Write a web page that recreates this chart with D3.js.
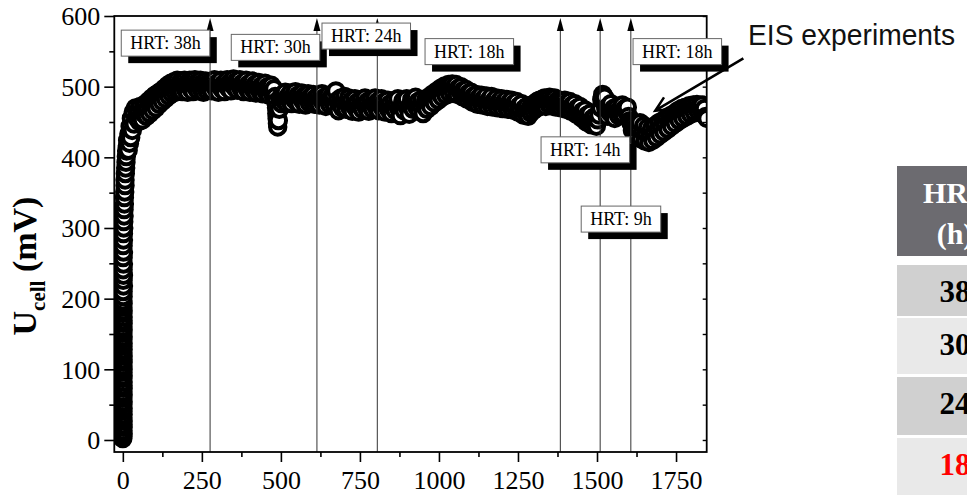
<!DOCTYPE html>
<html>
<head>
<meta charset="utf-8">
<script src="https://cdn.jsdelivr.net/npm/d3@7"></script>
<style>
  html, body { margin: 0; padding: 0; background: #fff; overflow: hidden; }
  svg { display: block; }
</style>
</head>
<body>
<svg id="chart" width="967" height="495"></svg>
<script>
// ---- Cell voltage record: [time (h), U_cell (mV)] grouped by HRT period ----
const startupRise = [
  [0,2],[0,5],[1,9],[0,13],[1,18],[0,22],[1,27],[0,31],[1,36],[0,41],[1,45],[0,50],[1,54],[0,59],
  [1,64],[0,68],[1,73],[0,77],[1,82],[0,87],[1,91],[0,96],[1,100],[0,105],[1,110],[0,114],[1,119],
  [0,123],[1,128],[0,133],[1,137],[0,142],[1,146],[0,151],[1,156],[0,160],[1,165],[0,169],[1,174],
  [0,179],[1,183],[0,188],[1,193],[0,197],[1,203],[1,210],[2,218],[1,226],[2,233],[1,241],[2,249],
  [1,258],[2,266],[1,275],[2,283],[2,292],[3,300],[3,309],[4,317],[4,326],[5,334],[5,343],[6,351],
  [7,360],[7,368],[8,377],[9,385],[10,393],[11,401],[12,409],[14,416],[15,424]
];
const periodHRT38 = [
  [17,410],[19,433],[21,420],[23,444],[25,428],[27,455],[30,438],[33,464],[36,447],[40,470],[44,456],
  [48,466],[52,451],[55,472],[58,460],[62,453],[65,470],[68,461],[72,476],[75,458],[78,468],[82,480],
  [85,462],[88,473],[92,484],[95,466],[98,478],[102,488],[105,470],[108,482],[112,491],[115,475],
  [118,486],[122,494],[125,479],[128,489],[132,498],[135,483],[138,493],[142,502],[145,487],[148,497],
  [152,505],[155,490],[158,500],[162,507],[165,492],[168,502],[172,509],[175,494],[178,504],[182,497],
  [185,508],[188,493],[192,503],[195,509],[198,496],[202,505],[205,492],[208,502],[212,509],[215,497],
  [218,506],[222,493],[225,503],[228,510],[232,498],[235,506],[238,494],[242,503],[245,509],[248,496],
  [252,505],[255,492],[258,501],[262,508],[265,495],[268,504],[272,499]
];
const periodHRT30 = [
  [278,507],[282,494],[286,503],[290,510],[294,497],[298,505],[302,492],[306,501],[310,509],[314,496],
  [318,504],[322,493],[326,502],[330,510],[334,498],[338,506],[342,494],[346,503],[350,511],[354,499],
  [358,507],[362,495],[366,504],[370,510],[374,497],[378,505],[382,493],[386,502],[390,509],[394,496],
  [398,504],[402,492],[406,500],[410,508],[414,495],[418,503],[422,491],[426,499],[430,506],[434,493],
  [438,501],[442,490],[446,498],[450,505],[454,492],[458,500],[462,488],[466,496],[470,502],[474,489],
  [478,497],[482,486],[484,478],[486,470],[487,462],[488,455],[489,448],[490,443],[492,452],[495,468],
  [498,484],[502,476],[506,489],[510,480],[514,492],[518,477],[522,486],[526,481],[530,491],[534,476],
  [538,487],[542,482],[546,493],[550,478],[554,488],[558,475],[562,485],[566,491],[570,479],[574,487],
  [578,474],[582,484],[586,490],[590,477],[594,486],[598,480],[602,489],[606,475],[610,484],[614,478]
];
const periodHRT24 = [
  [618,487],[622,474],[626,483],[630,490],[634,477],[638,485],[642,472],[646,482],[650,488],[654,475],
  [658,484],[662,479],[666,488],[670,474],[674,494],[678,480],[682,466],[686,476],[690,484],[694,470],
  [698,479],[702,486],[706,468],[710,477],[714,484],[718,470],[722,480],[726,465],[730,474],[734,483],
  [738,469],[742,478],[746,464],[750,473],[754,482],[758,468],[762,477],[766,484],[770,470],[774,479],
  [778,465],[782,474],[786,482],[790,468],[794,477],[798,484],[802,470]
];
const periodHRT18a = [
  [806,479],[810,466],[814,475],[818,483],[822,469],[826,478],[830,464],[834,473],[838,481],[842,467],
  [846,476],[850,462],[854,471],[858,480],[862,466],[866,475],[870,483],[874,468],[878,459],[882,472],
  [886,480],[890,466],[894,475],[898,483],[902,469],[906,461],[910,474],[914,482],[918,468],[922,477],
  [926,485],[930,471],[934,479],[938,465],[942,474],[946,482],[950,462],[954,473],[958,481],[962,468],
  [966,478],[970,486],[974,472],[978,482],[982,490],[986,477],[990,487],[994,494],[998,481],[1002,491],
  [1006,498],[1010,485],[1014,495],[1018,501],[1022,488],[1026,497],[1030,503],[1034,490],[1038,499],
  [1042,504],[1046,491],[1050,500],[1054,503],[1058,489],[1062,498],[1066,494],[1070,500],[1074,486],
  [1078,495],[1082,489],[1086,496],[1090,482],[1094,491],[1098,485],[1102,492],[1106,478],[1110,487],
  [1114,481],[1118,489],[1122,475],[1126,484],[1130,479],[1134,488],[1138,474],[1142,483],[1146,478],
  [1150,487],[1154,472],[1158,481],[1162,476],[1166,486],[1170,471],[1174,480],[1178,475],[1182,484],
  [1186,470],[1190,479],[1194,474],[1198,483],[1202,469],[1206,478],[1210,473],[1214,482],[1218,468],
  [1222,477],[1226,472],[1230,481],[1234,467],[1238,476],[1242,470],[1246,479],[1250,464],[1254,473],
  [1258,467],[1262,476],[1266,460],[1270,469],[1274,463],[1278,472],[1282,458],[1286,468],[1290,463],
  [1294,474],[1298,466],[1302,476],[1306,469],[1310,479],[1314,471],[1318,481],[1322,473],[1326,482],
  [1330,475],[1334,484],[1338,472],[1342,483],[1346,476],[1350,485],[1354,473],[1358,482],[1362,476],
  [1366,484],[1370,471],[1374,480],[1378,474],[1382,481]
];
const periodHRT14 = [
  [1386,470],[1390,479],[1394,473],[1398,481],[1402,468],[1406,477],[1410,471],[1414,479],[1418,465],
  [1422,474],[1426,468],[1430,476],[1434,461],[1438,470],[1442,464],[1446,472],[1450,456],[1454,465],
  [1458,458],[1462,467],[1466,450],[1470,460],[1474,453],[1478,462],[1482,446],[1486,455],[1490,449],
  [1494,458],[1498,444],[1502,453],[1506,460]
];
const periodHRT9 = [
  [1512,470],[1515,482],[1518,489],[1521,478],[1524,485],[1528,468],[1532,458],[1536,472],[1540,464],
  [1544,476],[1548,460],[1552,469],[1556,455],[1560,466],[1564,472],[1568,459],[1572,468],[1576,462],
  [1580,474],[1584,460],[1588,469],[1592,465],[1596,471],[1600,458],[1604,452]
];
const periodHRT18b = [
  [1608,448],[1612,438],[1616,446],[1620,433],[1624,443],[1628,429],[1632,440],[1636,449],[1640,426],
  [1644,437],[1648,445],[1652,423],[1656,434],[1660,442],[1664,421],[1668,432],[1672,440],[1676,424],
  [1680,435],[1684,445],[1688,428],[1692,439],[1696,449],[1700,432],[1704,443],[1708,452],[1712,436],
  [1716,447],[1720,456],[1724,440],[1728,451],[1732,459],[1736,444],[1740,455],[1744,462],[1748,448],
  [1752,459],[1756,466],[1760,452],[1764,462],[1768,469],[1772,455],[1776,465],[1780,471],[1784,458],
  [1788,467],[1792,473],[1796,461],[1800,470],[1804,474],[1808,463],[1812,471],[1816,475],[1820,465],
  [1824,472],[1828,468],[1832,474],[1836,463],[1840,469],[1844,458],[1848,455]
];

// Times (h) at which the HRT was changed
const hrtChangeHours = [276, 614, 805, 1384, 1510, 1607];

// Annotation boxes: text and top-left anchor (h, mV)
const hrtLabelText = ["HRT: 38h", "HRT: 30h", "HRT: 24h", "HRT: 18h", "HRT: 18h", "HRT: 14h", "HRT: 9h"];
const hrtLabelHour = [-5, 343, 630, 956, 1614, 1323, 1450];
const hrtLabelMv   = [580, 574, 590, 568, 568, 429, 331];

// Axis ticks
const xTicks = [0, 250, 500, 750, 1000, 1250, 1500, 1750];
const xMinorTicks = [125, 375, 625, 875, 1125, 1375, 1625];
const yTicks = [0, 100, 200, 300, 400, 500, 600];
const yMinorTicks = [50, 150, 250, 350, 450, 550];

// EIS callout: text and arrow (from -> to, in h / mV)
const eisText = "EIS experiments";
const eisArrowFrom = [1963, 540];
const eisArrowTo = [1684, 466];

// HRT summary table
const tableHeader = ["HRT", "(h)"];
const tableHrt = ["38", "30", "24", "18"];
const tableHighlight = "18";

// ---- Layout ----
const serif = "'Liberation Serif', 'Times New Roman', Times, serif";
const svg = d3.select("#chart");
const plot = { left: 114.3, right: 706.7, top: 16, bottom: 452 };

const x = d3.scaleLinear().domain([-27, 1847]).range([plot.left, plot.right]);
const y = d3.scaleLinear().domain([-17, 600]).range([plot.bottom, plot.top]);

svg.append("defs").append("clipPath").attr("id", "plotClip")
  .append("rect")
  .attr("x", plot.left).attr("y", plot.top)
  .attr("width", plot.right - plot.left).attr("height", plot.bottom - plot.top);

// ---- Scatter of open circles (thick outline) ----
const points = [].concat(startupRise, periodHRT38, periodHRT30, periodHRT24,
                         periodHRT18a, periodHRT14, periodHRT9, periodHRT18b);
svg.append("g").attr("clip-path", "url(#plotClip)")
  .selectAll("circle").data(points).join("circle")
  .attr("cx", d => x(d[0]))
  .attr("cy", d => y(d[1]))
  .attr("r", 7.7)
  .attr("fill", "#fff")
  .attr("stroke", "#000")
  .attr("stroke-width", 4);

// ---- HRT change markers (vertical arrows) ----
const arrows = svg.append("g");
const tipMv = 597;
arrows.selectAll("line").data(hrtChangeHours).join("line")
  .attr("x1", d => x(d)).attr("x2", d => x(d))
  .attr("y1", plot.bottom).attr("y2", y(tipMv) + 10)
  .attr("stroke", "#333").attr("stroke-width", 1);
arrows.selectAll("path").data(hrtChangeHours).join("path")
  .attr("d", d => {
    const px = x(d), py = y(tipMv);
    return `M${px},${py} L${px - 3.5},${py + 13} L${px + 3.5},${py + 13} Z`;
  })
  .attr("fill", "#000");

// ---- Frame & axes ----
const axisFont = g => g.selectAll("text")
  .attr("font-family", serif).attr("font-size", 26).attr("fill", "#000");

const xAxis = svg.append("g").attr("transform", `translate(0,${plot.bottom})`)
  .call(d3.axisBottom(x).tickValues(xTicks).tickSize(10).tickFormat(d3.format("d")));
xAxis.select(".domain").remove();
xAxis.selectAll("line").attr("stroke", "#000").attr("stroke-width", 1.6);
xAxis.call(axisFont);
xAxis.selectAll("text").attr("y", 37).attr("dy", 0);

const xMinor = svg.append("g").attr("transform", `translate(0,${plot.bottom})`)
  .call(d3.axisBottom(x).tickValues(xMinorTicks).tickSize(5).tickFormat(""));
xMinor.select(".domain").remove();
xMinor.selectAll("line").attr("stroke", "#000").attr("stroke-width", 1.6);

const yAxis = svg.append("g").attr("transform", `translate(${plot.left},0)`)
  .call(d3.axisLeft(y).tickValues(yTicks).tickSize(10).tickFormat(d3.format("d")));
yAxis.select(".domain").remove();
yAxis.selectAll("line").attr("stroke", "#000").attr("stroke-width", 1.6);
yAxis.call(axisFont);
yAxis.selectAll("text").attr("x", -14).attr("dy", "0.34em");

const yMinor = svg.append("g").attr("transform", `translate(${plot.left},0)`)
  .call(d3.axisLeft(y).tickValues(yMinorTicks).tickSize(5).tickFormat(""));
yMinor.select(".domain").remove();
yMinor.selectAll("line").attr("stroke", "#000").attr("stroke-width", 1.6);

// right-hand mirror ticks (inward)
const yRight = svg.append("g").attr("transform", `translate(${plot.right},0)`)
  .call(d3.axisRight(y).tickValues(yTicks.concat(yMinorTicks)).tickSize(-4).tickFormat(""));
yRight.select(".domain").remove();
yRight.selectAll("line").attr("stroke", "#000").attr("stroke-width", 1.4);

svg.append("rect")
  .attr("x", plot.left).attr("y", plot.top)
  .attr("width", plot.right - plot.left).attr("height", plot.bottom - plot.top)
  .attr("fill", "none").attr("stroke", "#000").attr("stroke-width", 1.8);

// ---- Y axis title: U_cell (mV) ----
const yTitle = svg.append("text")
  .attr("transform", "translate(36,266) rotate(-90)")
  .attr("text-anchor", "middle")
  .attr("font-family", serif).attr("font-weight", "bold").attr("font-size", 34)
  .attr("fill", "#000");
yTitle.append("tspan").text("U");
yTitle.append("tspan").attr("font-size", 21).attr("dy", 9).text("cell");
yTitle.append("tspan").attr("dy", -9).text(" (mV)");

// ---- HRT annotation boxes with drop shadow ----
const labels = svg.append("g");
hrtLabelText.forEach((t, i) => {
  const bx = x(hrtLabelHour[i]), by = y(hrtLabelMv[i]);
  const g = labels.append("g");
  const shadow = g.append("rect").attr("fill", "#000");
  const box = g.append("rect").attr("fill", "#fff").attr("stroke", "#666").attr("stroke-width", 1);
  const txt = g.append("text")
    .attr("x", bx + 9).attr("y", by + 19)
    .attr("font-family", serif).attr("font-size", 18).attr("fill", "#000")
    .text(t);
  const w = txt.node().getComputedTextLength() + 18, h = 26;
  shadow.attr("x", bx + 7).attr("y", by + 7).attr("width", w).attr("height", h);
  box.attr("x", bx).attr("y", by).attr("width", w).attr("height", h);
});

// ---- EIS callout ----
svg.append("text")
  .attr("x", 748).attr("y", 45)
  .attr("font-family", "'Liberation Sans', Arial, sans-serif")
  .attr("font-size", 30)
  .attr("textLength", 207).attr("lengthAdjust", "spacingAndGlyphs")
  .attr("fill", "#111")
  .text(eisText);

const ax1 = x(eisArrowFrom[0]), ay1 = y(eisArrowFrom[1]);
const ax2 = x(eisArrowTo[0]), ay2 = y(eisArrowTo[1]);
const ang = Math.atan2(ay1 - ay2, ax1 - ax2);
const headLen = 16, spread = 0.45;
svg.append("path")
  .attr("d", `M${ax1},${ay1} L${ax2},${ay2}` +
    ` M${ax2 + headLen * Math.cos(ang + spread)},${ay2 + headLen * Math.sin(ang + spread)} L${ax2},${ay2}` +
    ` L${ax2 + headLen * Math.cos(ang - spread)},${ay2 + headLen * Math.sin(ang - spread)}`)
  .attr("fill", "none").attr("stroke", "#000").attr("stroke-width", 2.5)
  .attr("stroke-linejoin", "miter");

// ---- HRT table ----
const table = svg.append("g");
const tableLeft = 897, tableWidth = 120, colCenter = 955;
table.append("rect").attr("x", tableLeft).attr("y", 166)
  .attr("width", tableWidth).attr("height", 90).attr("fill", "#6c6b70");
table.selectAll("text.head").data(tableHeader).join("text")
  .attr("class", "head")
  .attr("x", colCenter).attr("y", (d, i) => 203 + i * 41)
  .attr("text-anchor", "middle")
  .attr("font-family", serif).attr("font-weight", "bold").attr("font-size", 30)
  .attr("fill", "#fff").text(d => d);

const rowTop = [265, 318, 377, 438], rowHeight = [51, 56, 58, 60];
const rowFill = ["#d0d0d0", "#e9e9e9", "#d0d0d0", "#e9e9e9"];
const rows = table.selectAll("g.row").data(tableHrt).join("g").attr("class", "row");
rows.append("rect")
  .attr("x", tableLeft).attr("y", (d, i) => rowTop[i])
  .attr("width", tableWidth).attr("height", (d, i) => rowHeight[i])
  .attr("fill", (d, i) => rowFill[i]);
rows.append("text")
  .attr("x", colCenter).attr("y", (d, i) => rowTop[i] + 37)
  .attr("text-anchor", "middle")
  .attr("font-family", serif).attr("font-weight", "bold").attr("font-size", 31)
  .attr("fill", d => d === tableHighlight ? "#ff0000" : "#000")
  .text(d => d);
</script>
</body>
</html>
